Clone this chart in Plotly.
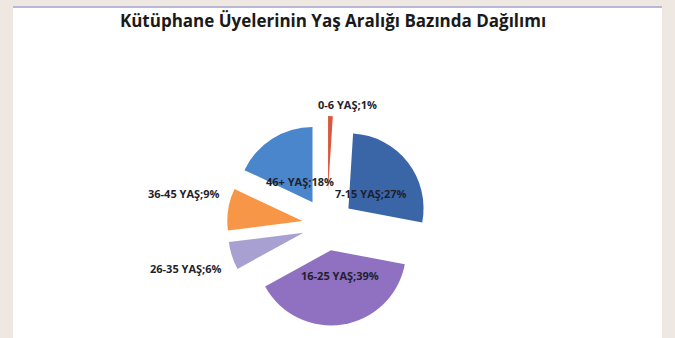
import plotly.graph_objects as go

# Library members by age group (share of total, %)
age_groups = ["0-6 YAŞ", "7-15 YAŞ", "16-25 YAŞ", "26-35 YAŞ", "36-45 YAŞ", "46+ YAŞ"]
shares = [1, 27, 39, 6, 9, 18]

slice_colors = ["#d9573a", "#3a66a8", "#9070c0", "#a8a0d0", "#f79646", "#4a86cc"]
slice_pull = [0.45, 0.36, 0.34, 0.33, 0.33, 0.36]

# Label anchor points (paper px, from top-left)
label_pos = [(347, 105), (370, 193), (340, 275), (185, 268), (183, 193), (300, 181)]

W, H = 675, 338

fig = go.Figure()
fig.add_trace(go.Pie(
    labels=age_groups,
    values=shares,
    sort=False,
    direction="clockwise",
    rotation=0,
    pull=slice_pull,
    marker=dict(colors=slice_colors, line=dict(width=0)),
    textinfo="none",
    hoverinfo="label+percent",
    showlegend=False,
    domain=dict(x=[218 / W, 436 / W], y=[1 - 334 / H, 1 - 116 / H]),
))

annotations = []
for name, val, (px, py) in zip(age_groups, shares, label_pos):
    annotations.append(dict(
        text=f"<b>{name};{val}%</b>",
        x=px / W, y=1 - py / H, xref="paper", yref="paper",
        showarrow=False, xanchor="center", yanchor="middle",
        font=dict(family="Open Sans", size=11, color="#1f1f2e"),
    ))

# White chart panel with a thin top border
shapes = [
    dict(type="rect", xref="paper", yref="paper", x0=13 / W, x1=662 / W, y0=0, y1=1 - 7 / H,
         fillcolor="white", line=dict(width=0), layer="below"),
    dict(type="line", xref="paper", yref="paper", x0=13 / W, x1=662 / W, y0=1 - 7 / H, y1=1 - 7 / H,
         line=dict(color="#b9b9d6", width=2), layer="below"),
]

fig.update_layout(
    width=W, height=H,
    margin=dict(l=0, r=0, t=0, b=0),
    paper_bgcolor="#efe8e2",
    plot_bgcolor="#efe8e2",
    title=dict(
        text="<b>Kütüphane Üyelerinin Yaş Aralığı Bazında Dağılımı</b>",
        x=333 / W, xanchor="center", y=1 - 21 / H, yanchor="middle",
        font=dict(family="Open Sans", size=17, color="#1a1a1a"),
    ),
    annotations=annotations,
    shapes=shapes,
)

fig.write_html("out.html")
